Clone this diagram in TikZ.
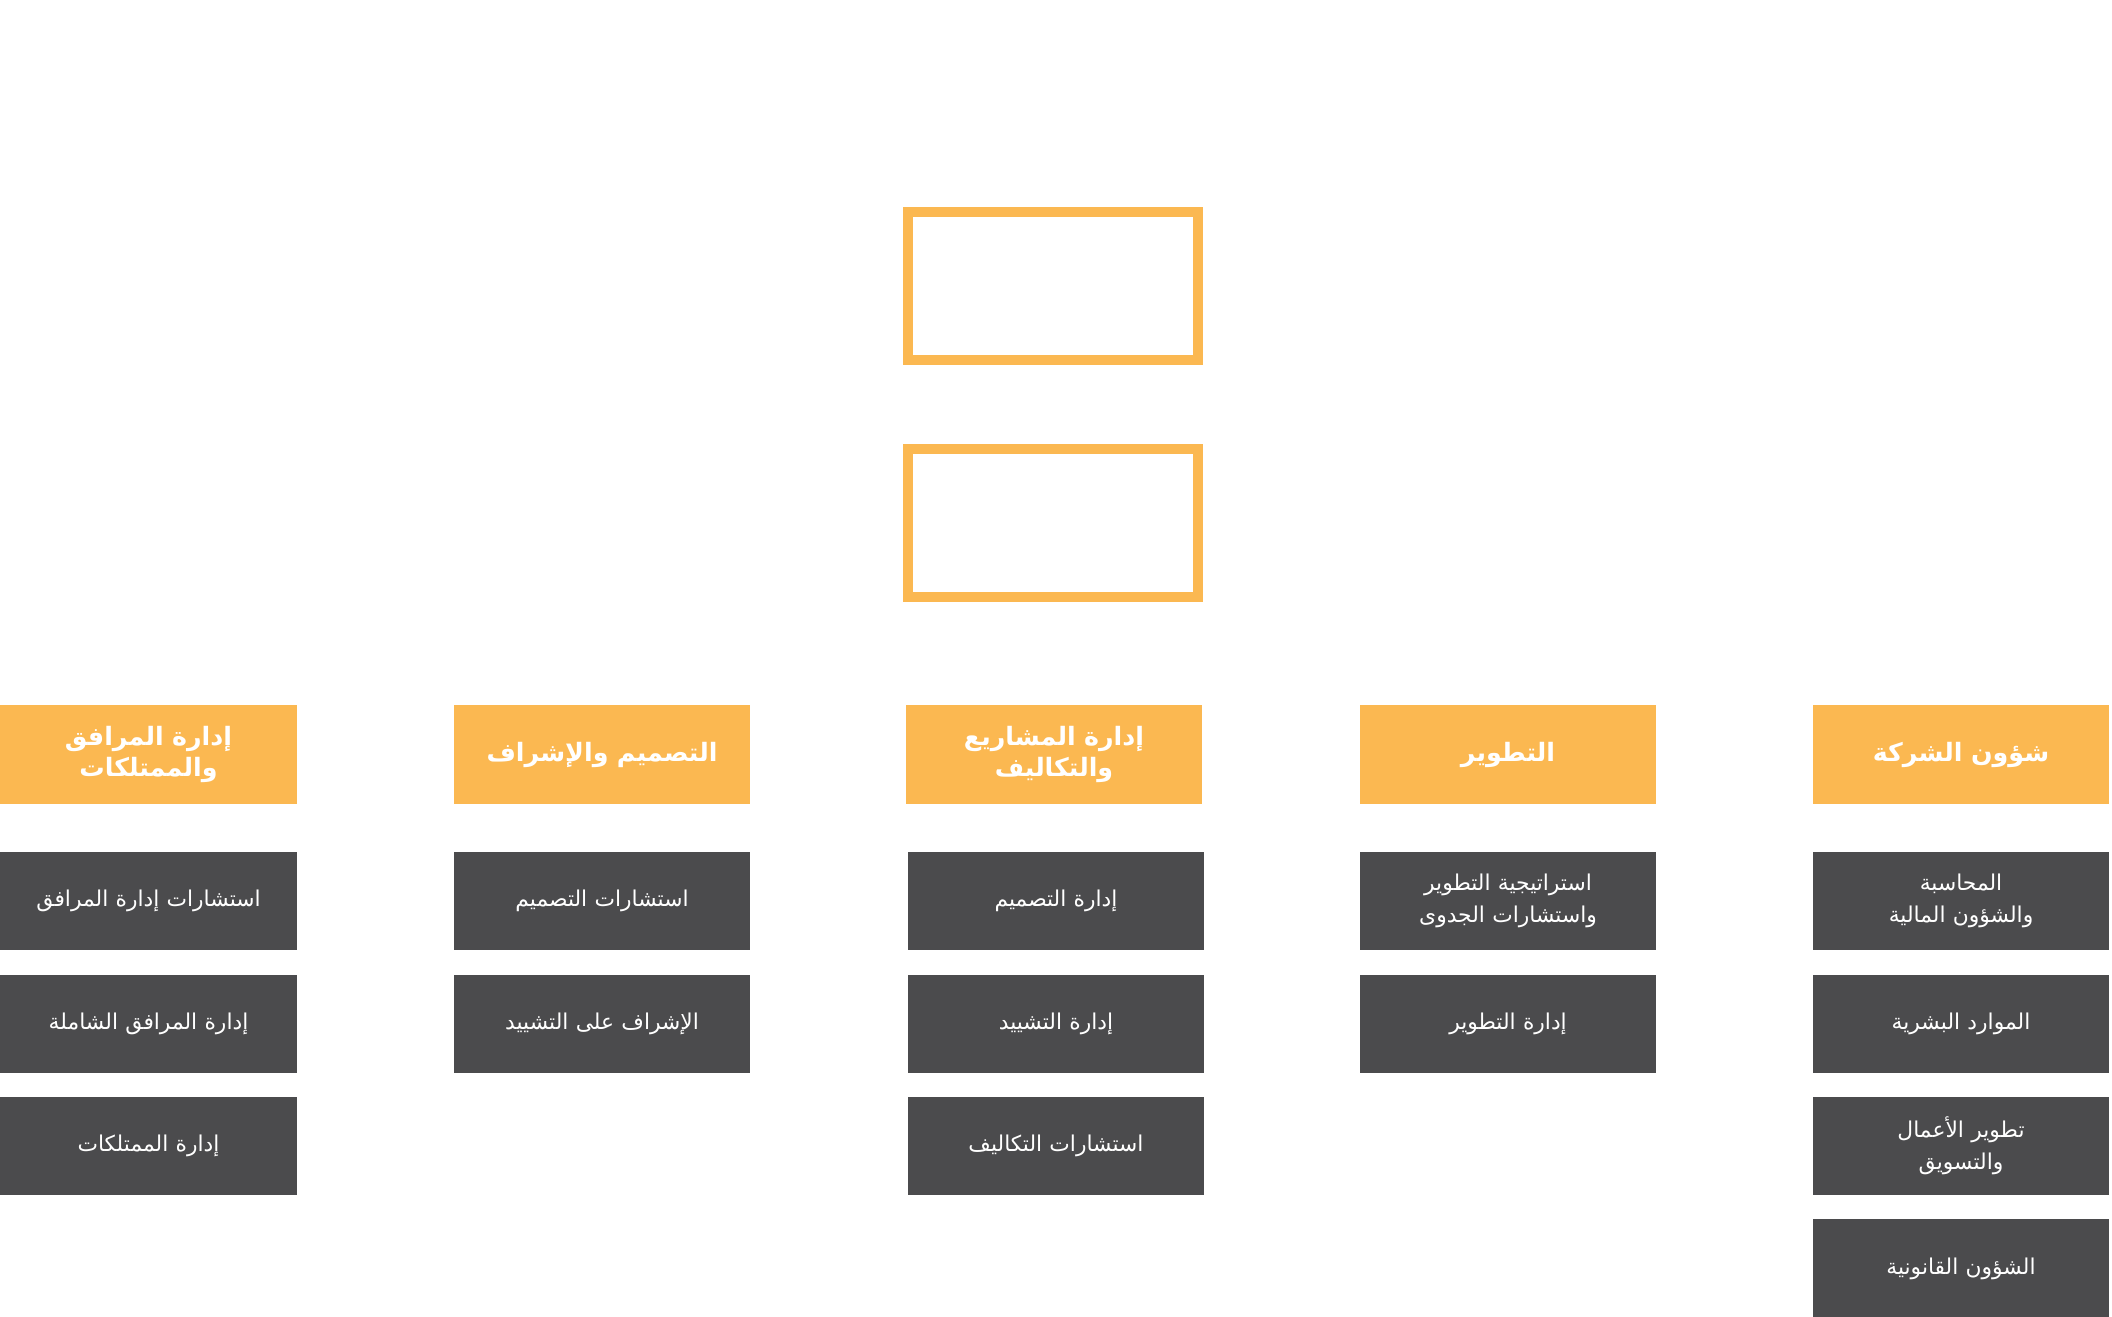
\documentclass[tikz,border=0pt]{standalone}
\usepackage{fontspec}
\newfontfamily\arabicfont[Script=Arabic]{DejaVu Sans}
\TeXXeTstate=1
\definecolor{headorange}{HTML}{FBB851}
\definecolor{unitgray}{HTML}{4B4B4D}
\newcommand{\ar}[1]{\beginR #1\endR}
\tikzset{
  head/.style={fill=headorange, text=white, minimum width=2.96cm, minimum height=0.99cm, text width=2.96cm,
    font=\arabicfont\bfseries\fontsize{7.2}{9}\selectfont, align=center, inner sep=0pt},
  unit/.style={fill=unitgray, text=white, minimum width=2.96cm, minimum height=0.98cm, text width=2.96cm,
    font=\arabicfont\fontsize{6.2}{9}\selectfont, align=center, inner sep=0pt},
  topbox/.style={draw=headorange, line width=2.8pt, minimum width=2.9cm, minimum height=1.48cm}
}
\begin{document}
\begin{tikzpicture}
\useasboundingbox (0,0) rectangle (21.12,-13.17);
% top boxes
\node[topbox] (board) at (10.53,-2.86) {};
\node[topbox] (ceo) at (10.53,-5.23) {};
% department heads
\node[head] (facilities) at (1.485,-7.545) {\ar{إدارة المرافق والممتلكات}};
\node[head] (design) at (6.02,-7.545) {\ar{التصميم والإشراف}};
\node[head] (projects) at (10.54,-7.545) {\ar{إدارة المشاريع والتكاليف}};
\node[head] (development) at (15.08,-7.545) {\ar{التطوير}};
\node[head] (corporate) at (19.61,-7.545) {\ar{شؤون الشركة}};
% units
\node[unit] (f1) at (1.485,-9.01) {\ar{استشارات إدارة المرافق}};
\node[unit] (f2) at (1.485,-10.24) {\ar{إدارة المرافق الشاملة}};
\node[unit] (f3) at (1.485,-11.46) {\ar{إدارة الممتلكات}};
\node[unit] (d1) at (6.02,-9.01) {\ar{استشارات التصميم}};
\node[unit] (d2) at (6.02,-10.24) {\ar{الإشراف على التشييد}};
\node[unit] (p1) at (10.56,-9.01) {\ar{إدارة التصميم}};
\node[unit] (p2) at (10.56,-10.24) {\ar{إدارة التشييد}};
\node[unit] (p3) at (10.56,-11.46) {\ar{استشارات التكاليف}};
\node[unit] (v1) at (15.08,-9.01) {\ar{استراتيجية التطوير}\\\ar{واستشارات الجدوى}};
\node[unit] (v2) at (15.08,-10.24) {\ar{إدارة التطوير}};
\node[unit] (c1) at (19.61,-9.01) {\ar{المحاسبة}\\\ar{والشؤون المالية}};
\node[unit] (c2) at (19.61,-10.24) {\ar{الموارد البشرية}};
\node[unit] (c3) at (19.61,-11.46) {\ar{تطوير الأعمال}\\\ar{والتسويق}};
\node[unit] (c4) at (19.61,-12.685) {\ar{الشؤون القانونية}};
\end{tikzpicture}
\end{document}
